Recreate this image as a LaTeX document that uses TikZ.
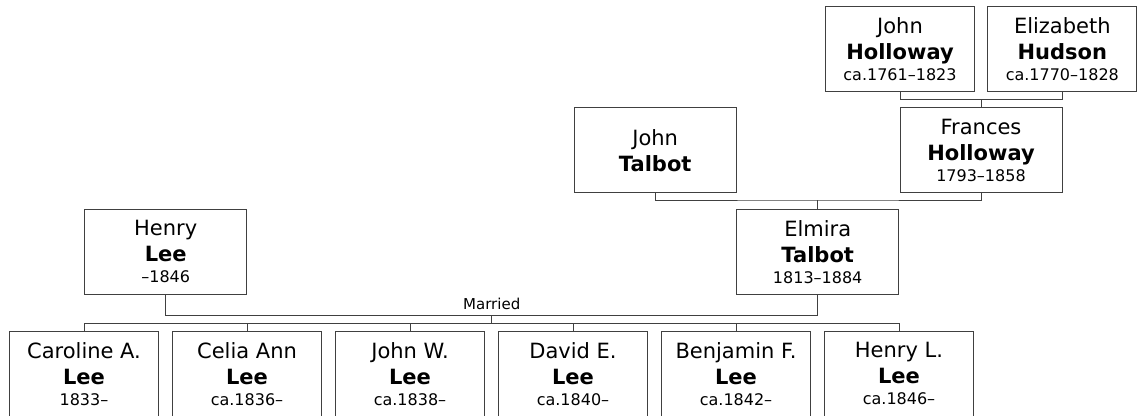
\documentclass[tikz,border=0pt]{standalone}
\usepackage{fontspec}
\setmainfont{DejaVu Sans}

\definecolor{linegray}{HTML}{404040}

\newcommand*{\dates}[1]{{\fontsize{16}{19}\selectfont #1}}
\newcommand*{\person}[3]{#1\\\textbf{#2}\\[-5pt]\dates{#3}}

\begin{document}
\begin{tikzpicture}
[
	x=1pt, y=-1pt,
	person/.style={draw=linegray,line width=1pt,align=center,inner sep=2pt,minimum height=85pt,font=\fontsize{21}{26}\selectfont},
	wide/.style={person,minimum width=162pt},
	narrow/.style={person,minimum width=149pt},
	link/.style={draw=linegray,line width=1pt},
	lbl/.style={font=\fontsize{15}{18}\selectfont,inner sep=5pt},
]

	\useasboundingbox (0,0) rectangle (1140,415);
	\clip (0,0) rectangle (1140,415);

	% grandparents
	\node[narrow] (jholloway) at (900,48.85) {\person{John}{Holloway}{ca.1761–1823}};
	\node[narrow] (ehudson) at (1062.3,48.85) {\person{Elizabeth}{Hudson}{ca.1770–1828}};

	% parents of elmira
	\node[wide] (jtalbot) at (655.2,150.2) {John\\\textbf{Talbot}};
	\node[wide] (fholloway) at (981,150.2) {\person{Frances}{Holloway}{1793–1858}};

	% couple
	\node[wide] (hlee) at (165.7,251.9) {\person{Henry}{Lee}{–1846}};
	\node[wide] (etalbot) at (817.7,251.9) {\person{Elmira}{Talbot}{1813–1884}};

	% children
	\foreach \first/\born [count=\i] in {Caroline A./1833–,Celia Ann/ca.1836–,John W./ca.1838–,David E./ca.1840–,Benjamin F./ca.1842–,Henry L./ca.1846–}
		\node[narrow] (c\i) at ({84+163*(\i-1)},373.85) {\person{\first}{Lee}{\born}};

	% links
	\coordinate (hjoin) at (981,99.3);
	\draw[link] (jholloway.south) |- (hjoin) -| (ehudson.south);
	\draw[link] (hjoin) -- (fholloway.north);

	\coordinate (tjoin) at (817.7,200);
	\draw[link] (jtalbot.south) |- (tjoin) -| (fholloway.south);
	\draw[link] (tjoin) -- (etalbot.north);

	\coordinate (mjoin) at (491.7,315.3);
	\coordinate (kjoin) at (491.7,323.3);
	\draw[link] (hlee.south) |- (mjoin) -| (etalbot.south);
	\node[lbl,above] (married) at (mjoin) {Married};
	\draw[link] (mjoin) -- (kjoin);
	\draw[link] (c1.north) |- (kjoin) -| (c6.north);
	\foreach \i in {2,...,5}
		\draw[link] (c\i.north) -- (c\i.north |- kjoin);

\end{tikzpicture}
\end{document}
